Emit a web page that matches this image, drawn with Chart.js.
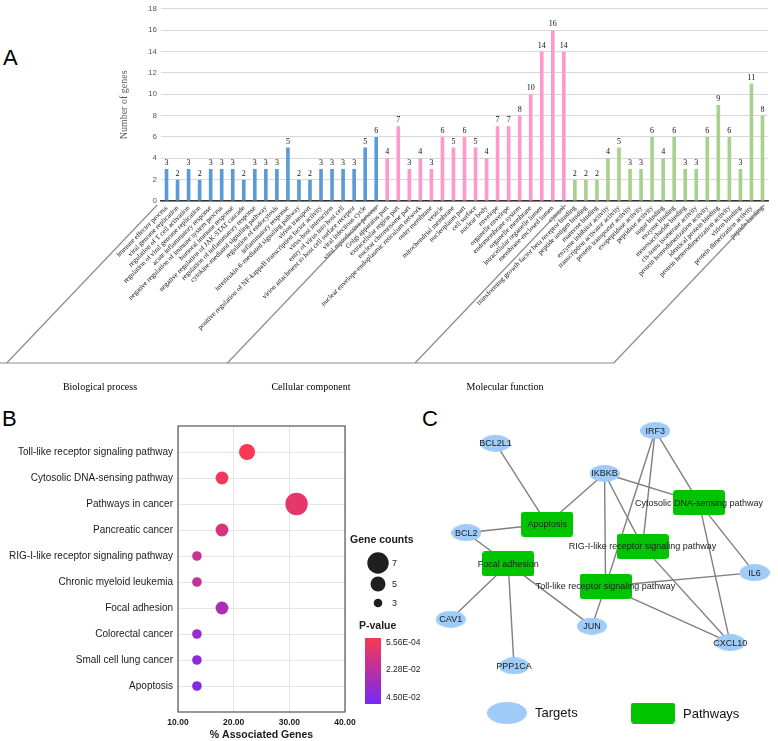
<!DOCTYPE html>
<html>
<head>
<meta charset="utf-8">
<script src="https://cdn.jsdelivr.net/npm/chart.js@4.4.1/dist/chart.umd.min.js"></script>
<style>
body { margin: 0; background: #fff; width: 778px; height: 741px; position: relative; overflow: hidden; }
.box { position: absolute; }
.tag { position: absolute; font: 22px "Liberation Sans", Arial, sans-serif; color: #000; line-height: 1; }
</style>
</head>
<body>
<div class="tag" style="left:3px;top:47px">A</div>
<div class="tag" style="left:2px;top:408px">B</div>
<div class="tag" style="left:422px;top:408px">C</div>

<div class="box" style="left:0;top:0;width:778px;height:400px"><canvas id="goChart"></canvas></div>
<div class="box" style="left:0;top:400px;width:420px;height:341px"><canvas id="keggChart"></canvas></div>
<div class="box" style="left:400px;top:380px;width:378px;height:361px"><canvas id="netChart"></canvas></div>

<script>
// panel A - GO terms
const bpLabels = ["immune effector process", "viral genome replication", "regulation of T cell activation",
    "regulation of viral genome replication", "acute inflammatory response", "negative regulation of immune system process",
    "humoral immune response", "negative regulation of JAK-STAT cascade", "regulation of inflammatory response",
    "cytokine-mediated signaling pathway", "regulation of endocytosis", "inflammatory response",
    "interleukin-6-mediated signaling pathway", "virion transport",
    "positive regulation of NF-kappaB transcription factor activity", "virus-host interaction",
    "entry of virus into host cell", "virion attachment to host cell surface receptor", "viral infectious cycle",
    "viral reproductive process"];
const bpCounts = [3, 2, 3, 2, 3, 3, 3, 2, 3, 3, 3, 5, 2, 2, 3, 3, 3, 3, 5, 6];

const ccLabels = ["Golgi apparatus part", "extracellular region part", "nuclear chromosome part",
    "nuclear envelope-endoplasmic reticulum network", "outer membrane", "vesicle", "mitochondrial membrane",
    "nucleoplasm part", "cell surface", "nuclear body", "envelope", "organelle envelope", "endomembrane system",
    "organelle membrane", "intracellular organelle lumen", "membrane-enclosed lumen", "cytosol"];
const ccCounts = [4, 7, 3, 4, 3, 6, 5, 6, 5, 4, 7, 7, 8, 10, 14, 16, 14];

const mfLabels = ["transforming growth factor beta receptor binding", "peptide antigen binding", "mannose binding",
    "enzyme inhibitor activity", "transcription activator activity", "protein transporter activity",
    "exopeptidase activity", "peptidase activity", "sugar binding", "enzyme binding", "monosaccharide binding",
    "cis-trans isomerase activity", "protein homodimerization activity", "identical protein binding",
    "protein heterodimerization activity", "virion binding", "protein dimerization activity", "peptide binding"];
const mfCounts = [2, 2, 2, 4, 5, 3, 3, 6, 4, 6, 3, 3, 6, 9, 6, 3, 11, 8];

const groupNames = ["Biological process", "Cellular component", "Molecular function"];
const groupColors = ["#5B9BD5", "#FF99CC", "#A9D18E"];
const geneTicks = [0, 2, 4, 6, 8, 10, 12, 14, 16, 18];

// panel B - KEGG enrichment
const pathways = ["Toll-like receptor signaling pathway", "Cytosolic DNA-sensing pathway", "Pathways in cancer",
    "Pancreatic cancer", "RIG-I-like receptor signaling pathway", "Chronic myeloid leukemia", "Focal adhesion",
    "Colorectal cancer", "Small cell lung cancer", "Apoptosis"];
const pctGenes = [22.4, 17.9, 31.3, 17.9, 13.4, 13.4, 17.9, 13.4, 13.4, 13.4];
const geneCounts = [5, 4, 7, 4, 3, 3, 4, 3, 3, 3];
const pValues = [0.000556, 0.0028, 0.0072, 0.0117, 0.0174, 0.0197, 0.0272, 0.0339, 0.037, 0.0405];
const pctTicks = [10, 20, 30, 40];
const countLegend = [7, 5, 3];
const pLegendLabels = ["5.56E-04", "2.28E-02", "4.50E-02"];

// panel C - target / pathway network
const nodeNames = ["IRF3", "BCL2L1", "IKBKB", "Cytosolic DNA-sensing pathway", "Apoptosis", "BCL2",
    "RIG-I-like receptor signaling pathway", "Focal adhesion", "IL6", "Toll-like receptor signaling pathway",
    "CAV1", "JUN", "CXCL10", "PPP1CA"];
const nodeKind = ["t", "t", "t", "p", "p", "t", "p", "p", "t", "p", "t", "t", "t", "t"];
const nodeX = [257, 93, 205, 302, 146, 63, 244, 106, 359, 206, 47, 192, 334, 112];
const nodeY = [47, 60, 91, 121, 143, 152, 166, 184, 193, 207, 241, 248, 265, 289];
const edges = [
    ["BCL2L1", "Apoptosis"], ["IKBKB", "Apoptosis"], ["BCL2", "Apoptosis"], ["BCL2", "Focal adhesion"],
    ["Focal adhesion", "CAV1"], ["Focal adhesion", "PPP1CA"], ["Focal adhesion", "JUN"],
    ["IKBKB", "Cytosolic DNA-sensing pathway"], ["IKBKB", "RIG-I-like receptor signaling pathway"],
    ["IKBKB", "Toll-like receptor signaling pathway"], ["IRF3", "Cytosolic DNA-sensing pathway"],
    ["IRF3", "RIG-I-like receptor signaling pathway"], ["IRF3", "Toll-like receptor signaling pathway"],
    ["Cytosolic DNA-sensing pathway", "IL6"], ["Cytosolic DNA-sensing pathway", "CXCL10"],
    ["RIG-I-like receptor signaling pathway", "CXCL10"], ["Toll-like receptor signaling pathway", "IL6"],
    ["Toll-like receptor signaling pathway", "JUN"], ["Toll-like receptor signaling pathway", "CXCL10"]
];

const serif = '"Liberation Serif", "Times New Roman", serif';
const sans = '"Liberation Sans", Arial, sans-serif';

(() => {
    drawGo();
    drawKegg();
    drawNetwork();
})()

function drawGo() {
    let labels = bpLabels.concat(ccLabels, mfLabels);
    let counts = bpCounts.concat(ccCounts, mfCounts);
    let colors = [];
    [bpCounts, ccCounts, mfCounts].forEach((g, gi) => g.forEach(() => colors.push(groupColors[gi])));

    const goExtras = {
        id: 'goExtras',
        afterDatasetsDraw(chart) {
            let ctx = chart.ctx;
            let meta = chart.getDatasetMeta(0);
            ctx.save();
            ctx.fillStyle = '#111';
            ctx.font = '8px ' + serif;
            ctx.textAlign = 'center';
            ctx.textBaseline = 'bottom';
            meta.data.forEach((bar, i) => ctx.fillText(counts[i], bar.x, bar.y - 2));

            // group frame below the rotated labels
            let xs = chart.scales.x;
            let axisY = chart.chartArea.bottom;
            let bottomY = 363;
            let bounds = [0, bpCounts.length, bpCounts.length + ccCounts.length, counts.length];
            ctx.strokeStyle = '#8c8c8c';
            ctx.lineWidth = 1.2;
            let bottoms = bounds.map(b => {
                let bx = xs.getPixelForValue(b - 0.5);
                let topY = axisY + 4;
                let botX = bx - (bottomY - axisY) / 1.05;
                ctx.beginPath();
                ctx.moveTo(bx - 4 / 1.05, topY);
                ctx.lineTo(botX, bottomY);
                ctx.stroke();
                return botX;
            });
            ctx.beginPath();
            ctx.moveTo(0, bottomY);
            ctx.lineTo(bottoms[3], bottomY);
            ctx.stroke();

            ctx.fillStyle = '#000';
            ctx.font = '10px ' + serif;
            ctx.textBaseline = 'middle';
            [100, 311, 505].forEach((cx, i) => ctx.fillText(groupNames[i], cx, 387));
            ctx.restore();
        }
    };

    new Chart(document.getElementById("goChart"), {
        type: 'bar',
        data: {
            labels: labels,
            datasets: [{
                data: counts,
                backgroundColor: colors,
                barPercentage: 0.33,
                categoryPercentage: 1
            }]
        },
        options: {
            responsive: true,
            maintainAspectRatio: false,
            animation: false,
            layout: { padding: { left: 118, top: 3, right: 10, bottom: 0 } },
            plugins: { legend: { display: false }, tooltip: { enabled: false } },
            scales: {
                x: {
                    grid: { display: false, drawTicks: false },
                    border: { display: true, color: '#333', width: 1.5 },
                    ticks: {
                        autoSkip: false, minRotation: 45, maxRotation: 45, padding: 3,
                        color: '#111', font: { family: serif, size: 7 }
                    },
                    afterFit(scale) {
                        scale.height = 199;
                        scale.paddingLeft = 0;
                        scale.paddingRight = 0;
                    }
                },
                y: {
                    min: 0, max: 18,
                    afterBuildTicks(scale) { scale.ticks = geneTicks.map(v => ({ value: v })); },
                    grid: { color: '#d9d9d9', drawTicks: false },
                    border: { display: false },
                    ticks: { padding: 4, color: '#595959', font: { family: sans, size: 8 } },
                    title: { display: true, text: 'Number of genes', color: '#595959', font: { family: serif, size: 10 }, padding: 0 },
                    afterFit(scale) { scale.width = 43; }
                }
            }
        },
        plugins: [goExtras]
    });
}

function pColor(p) {
    let lo = pValues[0], hi = 0.045;
    let t = Math.min(1, Math.max(0, (p - lo) / (hi - lo)));
    let a = [250, 56, 82], b = [118, 40, 246];
    let c = a.map((v, i) => Math.round(v + (b[i] - v) * t));
    return `rgb(${c[0]},${c[1]},${c[2]})`;
}

function bubbleRadius(n) {
    return n * 1.6;
}

function drawKegg() {
    const keggExtras = {
        id: 'keggExtras',
        afterDraw(chart) {
            let ctx = chart.ctx;
            let a = chart.chartArea;
            ctx.save();
            ctx.strokeStyle = '#555';
            ctx.lineWidth = 1.2;
            ctx.strokeRect(a.left, a.top, a.right - a.left, a.bottom - a.top);

            ctx.fillStyle = '#1a1a1a';
            ctx.font = 'bold 10.5px ' + sans;
            ctx.textAlign = 'left';
            ctx.textBaseline = 'middle';
            ctx.fillText('Gene counts', 350, 140);
            let ys = [163, 184, 203];
            countLegend.forEach((n, i) => {
                ctx.fillStyle = '#1f1f1f';
                ctx.beginPath();
                ctx.arc(378, ys[i], bubbleRadius(n) - 0.5, 0, Math.PI * 2);
                ctx.fill();
                ctx.font = '9px ' + sans;
                ctx.fillText(n, 392, ys[i] + 1);
            });

            ctx.font = 'bold 10.5px ' + sans;
            ctx.fillText('P-value', 359, 226);
            let grad = ctx.createLinearGradient(0, 238, 0, 304);
            grad.addColorStop(0, pColor(pValues[0]));
            grad.addColorStop(0.5, pColor(0.0228));
            grad.addColorStop(1, pColor(0.045));
            ctx.fillStyle = grad;
            ctx.fillRect(365, 238, 16, 66);
            ctx.fillStyle = '#1a1a1a';
            ctx.font = '8.5px ' + sans;
            [243, 270, 298].forEach((y, i) => ctx.fillText(pLegendLabels[i], 386, y));
            ctx.restore();
        }
    };

    new Chart(document.getElementById("keggChart"), {
        type: 'bubble',
        data: {
            datasets: [{
                data: pctGenes.map((v, i) => ({ x: v, y: i + 1, r: bubbleRadius(geneCounts[i]) })),
                backgroundColor: pValues.map(p => pColor(p)),
                borderWidth: 0
            }]
        },
        options: {
            responsive: true,
            maintainAspectRatio: false,
            animation: false,
            layout: { padding: { left: 0, top: 26, right: 75, bottom: 0 } },
            plugins: { legend: { display: false }, tooltip: { enabled: false } },
            scales: {
                x: {
                    min: 10, max: 40,
                    afterBuildTicks(scale) { scale.ticks = pctTicks.map(v => ({ value: v })); },
                    grid: { color: '#e6e6e6', drawTicks: false },
                    border: { display: false },
                    ticks: {
                        padding: 6, color: '#1a1a1a', font: { family: sans, size: 8.5, weight: 'bold' },
                        callback: v => v.toFixed(2)
                    },
                    title: { display: true, text: '% Associated Genes', color: '#1a1a1a', font: { family: sans, size: 10.5, weight: 'bold' }, padding: 0 },
                    afterFit(scale) { scale.height = 29; }
                },
                y: {
                    min: 0, max: 11, reverse: true,
                    afterBuildTicks(scale) { scale.ticks = pathways.map((p, i) => ({ value: i + 1 })); },
                    grid: { color: '#e6e6e6', drawTicks: false },
                    border: { display: false },
                    ticks: {
                        padding: 5, color: '#1a1a1a', font: { family: sans, size: 10 },
                        callback: v => pathways[v - 1]
                    },
                    afterFit(scale) { scale.width = 178; }
                }
            }
        },
        plugins: [keggExtras]
    });
}

// node shapes as small canvases, used as point styles
function makeShape(kind, w, h) {
    let c = document.createElement('canvas');
    c.width = w;
    c.height = h;
    let ctx = c.getContext('2d');
    if (kind === 't') {
        ctx.fillStyle = '#9ECBF7';
        ctx.beginPath();
        ctx.ellipse(w / 2, h / 2, w / 2, h / 2, 0, 0, Math.PI * 2);
        ctx.fill();
    } else {
        ctx.fillStyle = '#00C400';
        ctx.beginPath();
        ctx.roundRect(0, 0, w, h, 3);
        ctx.fill();
    }
    return c;
}

function drawNetwork() {
    let ellipse = makeShape('t', 30, 17);
    let rect = makeShape('p', 52, 25);
    let bigEllipse = makeShape('t', 40, 22);
    let bigRect = makeShape('p', 44, 21);
    let idx = name => nodeNames.indexOf(name);

    let edgeSets = edges.map(([a, b]) => ({
        type: 'scatter',
        data: [{ x: nodeX[idx(a)], y: nodeY[idx(a)] }, { x: nodeX[idx(b)], y: nodeY[idx(b)] }],
        showLine: true,
        borderColor: '#808080',
        borderWidth: 1.4,
        pointRadius: 0,
        order: 2
    }));

    const netExtras = {
        id: 'netExtras',
        afterDatasetsDraw(chart) {
            let ctx = chart.ctx;
            let xs = chart.scales.x, ys = chart.scales.y;
            ctx.save();
            ctx.fillStyle = '#1c1c1c';
            ctx.font = '9px ' + sans;
            ctx.textAlign = 'center';
            ctx.textBaseline = 'middle';
            nodeNames.forEach((n, i) => ctx.fillText(n, xs.getPixelForValue(nodeX[i]), ys.getPixelForValue(nodeY[i]) + 0.5));

            // legend
            let ly = 333;
            ctx.drawImage(bigEllipse, 87, ly - 11, 40, 22);
            ctx.drawImage(bigRect, 231, ly - 10.5, 44, 21);
            ctx.fillStyle = '#111';
            ctx.font = '13px ' + sans;
            ctx.textAlign = 'left';
            ctx.fillText('Targets', 135, ly);
            ctx.fillText('Pathways', 283, ly + 1);
            ctx.restore();
        }
    };

    new Chart(document.getElementById("netChart"), {
        type: 'scatter',
        data: {
            datasets: [{
                data: nodeNames.map((n, i) => ({ x: nodeX[i], y: nodeY[i] })),
                pointStyle: nodeKind.map(k => k === 't' ? ellipse : rect),
                order: 1
            }].concat(edgeSets)
        },
        options: {
            responsive: true,
            maintainAspectRatio: false,
            animation: false,
            layout: { padding: 0 },
            plugins: { legend: { display: false }, tooltip: { enabled: false } },
            scales: {
                x: { display: false, min: 0, max: 378 },
                y: { display: false, min: 0, max: 361, reverse: true }
            }
        },
        plugins: [netExtras]
    });
}
</script>
</body>
</html>
